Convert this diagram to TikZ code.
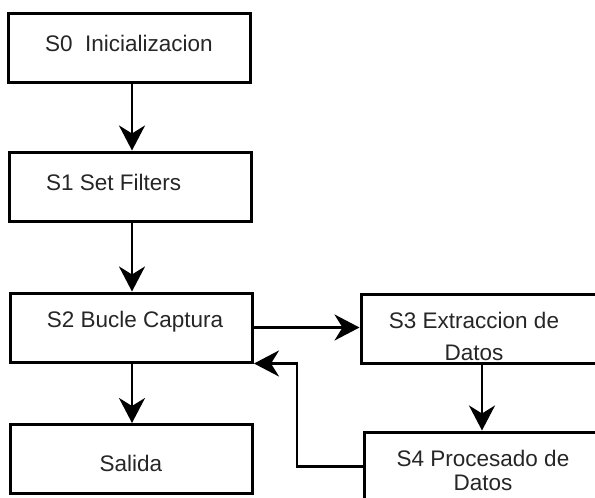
\documentclass[tikz,border=0pt]{standalone}
\usepackage{fontspec}
\setmainfont{Liberation Sans}
\usetikzlibrary{arrows.meta}

\tikzset{
  stage/.style={draw=black, line width=3pt, rectangle, inner sep=0pt,
                minimum width=242pt, minimum height=69pt, fill=white},
  label/.style={inner sep=0pt, font=\fontsize{22.5}{32}\selectfont, align=center, text=black!85},
  flow/.style={draw=black, line width=2.8pt,
               -{Stealth[length=25pt, width=26pt, inset=8pt]}},
}

\begin{document}
\begin{tikzpicture}[x=1pt, y=-1pt]
  \clip (0,0) rectangle (595,498);
  \fill[white] (0,0) rectangle (595,498);

  % stages
  \node[stage] (s0) at (129.5,47.5) {};
  \node[stage] (s1) at (130.5,186.5) {};
  \node[stage] (s2) at (131.5,327.5) {};
  \node[stage] (out) at (131.5,459) {};
  \node[stage] (s3) at (482,329) {};
  \node[stage] (s4) at (485,466.5) {};

  % connectors
  \coordinate (bend) at (297,420);
  \draw[flow] (s0.south -| 132,0) -- (s1.north -| 132,0);
  \draw[flow] (s1.south -| 132,0) -- (s2.north -| 132,0);
  \draw[flow] (s2.south -| 132,0) -- (out.north -| 132,0);
  \draw[flow] (s2.east) -- (s2.east -| s3.west);
  \draw[flow] (s3.south) -- (s4.north -| s3.south);
  \draw[flow] (s4.west) -| (bend) |- (s2.south east);

  % stage texts
  \node[label] (t0) at (129,43) {S0\ \ Inicializacion};
  \node[label, anchor=west] (t1) at (46,182) {S1 Set Filters};
  \node[label] (t2) at (135,322) {S2 Bucle Captura};
  \node[label] (tout) at (131,463) {Salida};
  \node[label] (t3) at (474,336) {S3 Extraccion de\\Datos};
  \node[label, font=\fontsize{22.5}{24}\selectfont] (t4) at (483,470.5) {S4 Procesado de\\Datos};
\end{tikzpicture}
\end{document}
